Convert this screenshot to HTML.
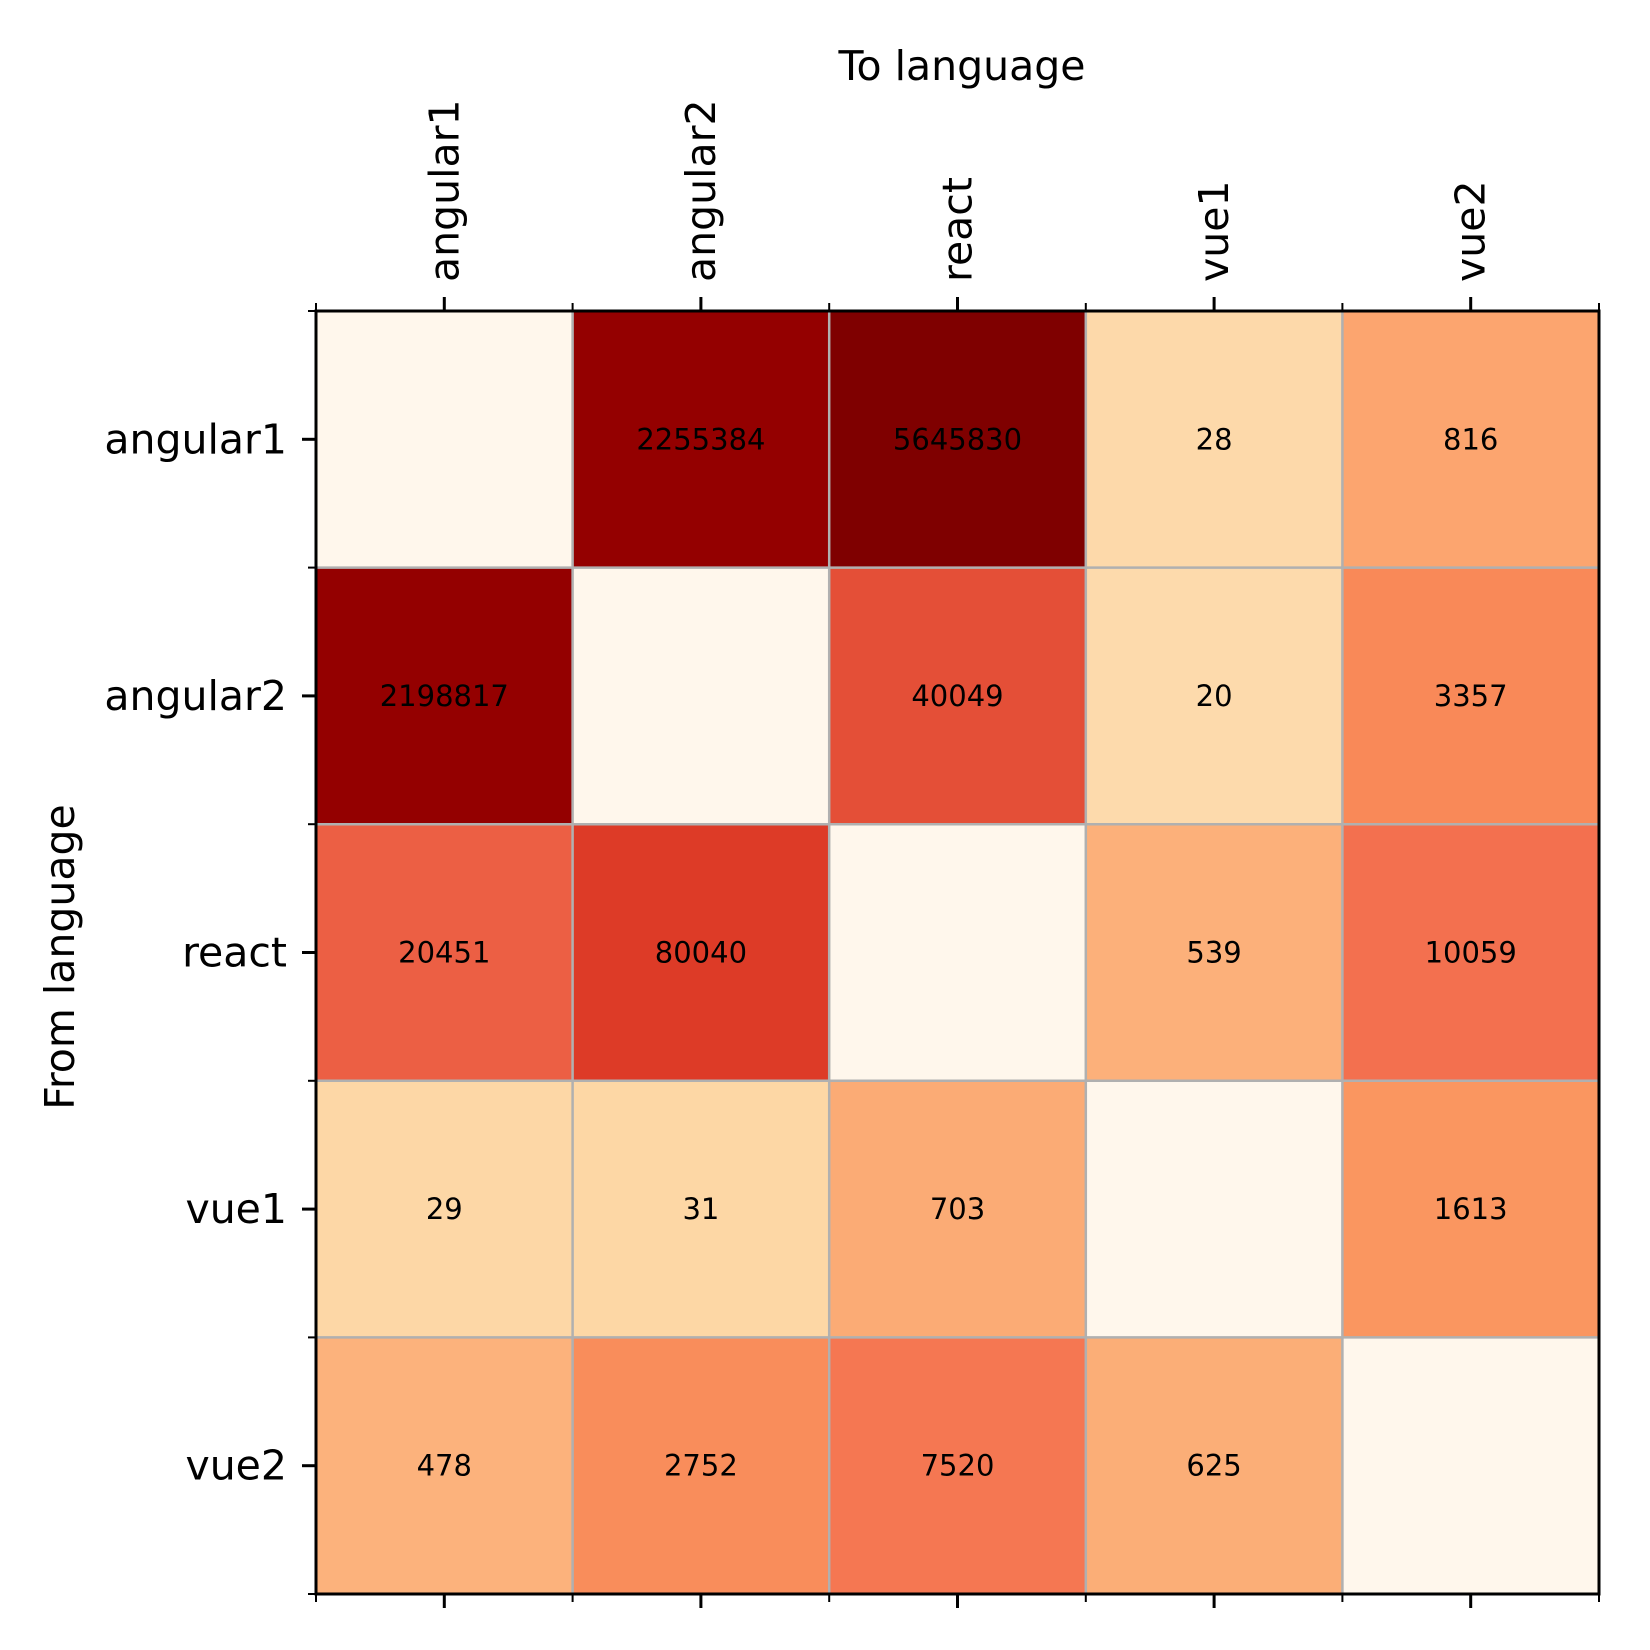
<!DOCTYPE html>
<html><head><meta charset="utf-8"><style>html,body{margin:0;padding:0;background:#fff}svg{display:block}</style></head>
<body>
<svg width="1650" height="1650" viewBox="0 0 1650 1650" xmlns="http://www.w3.org/2000/svg" font-family="DejaVu Sans, Liberation Sans, sans-serif">
<rect width="1650" height="1650" fill="#fff"/>
<g id="cells"></g>
<script>
const cols=[["#fff7ec","#940000","#7f0000","#fdd9aa","#fca56f"],
["#940000","#fff7ec","#e44f37","#fddaac","#f98958"],
["#ec5f44","#dd3b27","#fff7ec","#fcb07a","#f3704f"],
["#fdd7a6","#fdd7a5","#fbab75","#fff7ec","#fa9660"],
["#fcb27c","#f98d5b","#f57752","#fbae77","#fff7ec"]];
const vals=[["","2255384","5645830","28","816"],["2198817","","40049","20","3357"],["20451","80040","","539","10059"],["29","31","703","","1613"],["478","2752","7520","625",""]];
const x0=316,y0=311,c=256.6,ns="http://www.w3.org/2000/svg";
const g=document.getElementById("cells");
function el(t,a,txt){const e=document.createElementNS(ns,t);for(const k in a)e.setAttribute(k,a[k]);if(txt)e.textContent=txt;g.appendChild(e);return e;}
for(let r=0;r<5;r++)for(let k=0;k<5;k++){el("rect",{x:x0+k*c,y:y0+r*c,width:c+0.5,height:c+0.5,fill:cols[r][k]});}
for(let i=1;i<5;i++){el("line",{x1:x0+i*c,x2:x0+i*c,y1:y0,y2:y0+5*c,stroke:"#b0b0b0","stroke-width":2.5});el("line",{y1:y0+i*c,y2:y0+i*c,x1:x0,x2:x0+5*c,stroke:"#b0b0b0","stroke-width":2.5});}
for(let r=0;r<5;r++)for(let k=0;k<5;k++){if(vals[r][k])el("text",{x:x0+k*c+c/2,y:y0+r*c+c/2,"font-size":29,"text-anchor":"middle","dominant-baseline":"central",fill:"#000"},vals[r][k]);}
el("rect",{x:x0,y:y0,width:5*c,height:5*c,fill:"none",stroke:"#000","stroke-width":3});
const names=["angular1","angular2","react","vue1","vue2"];
for(let i=0;i<5;i++){const m=x0+i*c+c/2,my=y0+i*c+c/2;
el("line",{x1:m,x2:m,y1:y0,y2:y0-14,stroke:"#000","stroke-width":3});
el("line",{x1:m,x2:m,y1:y0+5*c,y2:y0+5*c+14,stroke:"#000","stroke-width":3});
el("line",{x1:x0,x2:x0-14,y1:my,y2:my,stroke:"#000","stroke-width":3});
el("text",{x:287,y:my,"font-size":41,"text-anchor":"end","dominant-baseline":"central"},names[i]);
el("text",{x:0,y:0,"font-size":41,"text-anchor":"start","dominant-baseline":"central",transform:`translate(${m},282) rotate(-90)`},names[i]);}
for(let i=0;i<=5;i++){const b=x0+i*c,by=y0+i*c;
el("line",{x1:b,x2:b,y1:y0,y2:y0-8,stroke:"#000","stroke-width":2});
el("line",{x1:b,x2:b,y1:y0+5*c,y2:y0+5*c+8,stroke:"#000","stroke-width":2});
el("line",{x1:x0,x2:x0-8,y1:by,y2:by,stroke:"#000","stroke-width":2});}
el("text",{x:962,y:66,"font-size":41,"text-anchor":"middle","dominant-baseline":"central"},"To language");
el("text",{x:0,y:0,"font-size":41,"text-anchor":"middle","dominant-baseline":"central",transform:"translate(60,957) rotate(-90)"},"From language");
</script>
</svg>
</body></html>
